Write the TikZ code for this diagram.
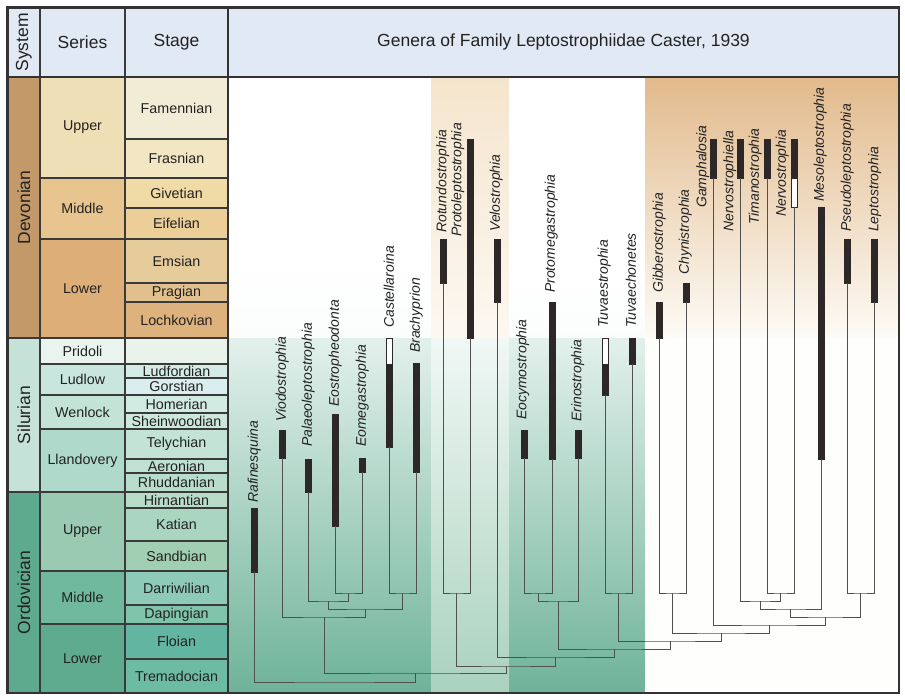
\documentclass[tikz,border=0pt]{standalone}
\usepackage{fontspec}
\setmainfont{Liberation Sans}
\usetikzlibrary{positioning}
\definecolor{headC}{HTML}{E1E9F5}
\definecolor{gridC}{HTML}{3A3A3A}
\definecolor{frameC}{HTML}{333333}
\definecolor{textC}{HTML}{222222}
\definecolor{barC}{HTML}{2E2727}
\definecolor{branchC}{HTML}{505050}
% systems
\definecolor{devS}{HTML}{C4996A}
\definecolor{silS}{HTML}{C6E2D8}
\definecolor{ordS}{HTML}{5EAA8E}
% series
\definecolor{dU}{HTML}{EFDFB6}
\definecolor{dM}{HTML}{E8C58F}
\definecolor{dL}{HTML}{DDAE78}
\definecolor{sP}{HTML}{EAF4EE}
\definecolor{sLu}{HTML}{C8E6DE}
\definecolor{sW}{HTML}{C3E3D7}
\definecolor{sLl}{HTML}{AFD9CB}
\definecolor{oU}{HTML}{9ACAB2}
\definecolor{oM}{HTML}{70B89E}
\definecolor{oL}{HTML}{5FAB8F}
% stages
\definecolor{famC}{HTML}{F2EBD5}
\definecolor{fraC}{HTML}{F2E7C2}
\definecolor{givC}{HTML}{F0DBA6}
\definecolor{eifC}{HTML}{EBCE98}
\definecolor{emsC}{HTML}{E6CB9B}
\definecolor{praC}{HTML}{E2C08D}
\definecolor{locC}{HTML}{DDB27C}
\definecolor{priC}{HTML}{E9F3EC}
\definecolor{ludC}{HTML}{D4ECE5}
\definecolor{gorC}{HTML}{DAEDEF}
\definecolor{homC}{HTML}{D2EBE2}
\definecolor{sheC}{HTML}{CCE8DC}
\definecolor{telC}{HTML}{C4E3D7}
\definecolor{aerC}{HTML}{BEE1D3}
\definecolor{rhuC}{HTML}{B8DDCD}
\definecolor{hirC}{HTML}{B8DCC8}
\definecolor{katC}{HTML}{AAD6C1}
\definecolor{sanC}{HTML}{A0CFB3}
\definecolor{darC}{HTML}{8DCBB8}
\definecolor{dapC}{HTML}{80C4AC}
\definecolor{floC}{HTML}{62B6A1}
\definecolor{treC}{HTML}{6CBBA2}
\begin{document}
\begin{tikzpicture}[x=1pt,y=-1pt,
    cell/.style={draw=gridC,line width=1.2pt,inner sep=0pt,text=textC,font=\fontsize{14.3}{16}\selectfont},
    bigcell/.style={cell,font=\fontsize{17.5}{20}\selectfont},
    bar/.style={fill=barC,draw=barC,line width=0.4pt,inner sep=0pt,minimum width=6pt},
    openbar/.style={bar,fill=white,line width=0.8pt},
    genus/.style={rotate=90,anchor=west,inner sep=0pt,text height=10.5pt,text depth=3pt,text=textC,font=\fontsize{14}{16}\selectfont\itshape},
    branch/.style={draw=branchC,line width=0.9pt}]
            \useasboundingbox (0,0) rectangle (905,699);
            \fill[white] (0,0) rectangle (905,699);
            % background bands of the genera area
            \shade[top color=white,bottom color=white!93!silS] (228,250) rectangle (431.5,338);
            \shade[top color=white!50!silS,middle color=silS!85!white,bottom color=ordS!90!white] (228,338) rectangle (431.5,693);
            \shade[top color=white!55!dM,bottom color=white!88!dM] (431.5,77) rectangle (509,338);
            \shade[top color=white!75!silS,middle color=white!30!silS,bottom color=oU!85!white] (431.5,338) rectangle (509,693);
            \shade[top color=white,bottom color=white!93!silS] (509,270) rectangle (645,338);
            \shade[top color=white!50!silS,middle color=silS!85!white,bottom color=ordS!90!white] (509,338) rectangle (645,693);
            \shade[top color=dL!85!white,bottom color=white!88!dU] (645,77) rectangle (899,338);
            \fill[white!97!dU] (645,338) rectangle (899,693);
            % header
            \node[bigcell,fill=headC,rotate=90,minimum width=69.5pt,minimum height=32.5pt] (hsys) at (23.75,42.25) {System};
            \node[bigcell,fill=headC,minimum width=85pt,minimum height=69.5pt] (hser) at (82.5,42.25) {Series};
            \node[bigcell,fill=headC,minimum width=103pt,minimum height=69.5pt] (hsta) at (176.5,42.25) {Stage};
            \node[bigcell,fill=headC,minimum width=671pt,minimum height=69.5pt] (hgen) at (563.5,42.25) {Genera of Family Leptostrophiidae Caster, 1939};
            % systems
            \node[bigcell,fill=devS,rotate=90,minimum width=261pt,minimum height=32.5pt] (devonian) at (23.75,207.5) {Devonian};
            \node[bigcell,fill=silS,rotate=90,minimum width=154pt,minimum height=32.5pt] (silurian) at (23.75,415) {Silurian};
            \node[bigcell,fill=ordS,rotate=90,minimum width=201pt,minimum height=32.5pt] (ordovician) at (23.75,592.5) {Ordovician};
            % series
            \node[cell,fill=dU,minimum width=85pt,minimum height=101pt] (upperD) at (82.5,127.5) {Upper};
            \node[cell,fill=dM,minimum width=85pt,minimum height=61pt] (middleD) at (82.5,208.5) {Middle};
            \node[cell,fill=dL,minimum width=85pt,minimum height=99pt] (lowerD) at (82.5,288.5) {Lower};
            \node[cell,fill=sP,minimum width=85pt,minimum height=26pt] (pridoli) at (82.5,351) {Pridoli};
            \node[cell,fill=sLu,minimum width=85pt,minimum height=31pt] (ludlow) at (82.5,379.5) {Ludlow};
            \node[cell,fill=sW,minimum width=85pt,minimum height=34pt] (wenlock) at (82.5,412) {Wenlock};
            \node[cell,fill=sLl,minimum width=85pt,minimum height=63pt] (llandovery) at (82.5,460.5) {Llandovery};
            \node[cell,fill=oU,minimum width=85pt,minimum height=79pt] (upperO) at (82.5,531.5) {Upper};
            \node[cell,fill=oM,minimum width=85pt,minimum height=53pt] (middleO) at (82.5,597.5) {Middle};
            \node[cell,fill=oL,minimum width=85pt,minimum height=69pt] (lowerO) at (82.5,658.5) {Lower};
            % stages
            \node[cell,fill=famC,minimum width=103pt,minimum height=62pt] (famennian) at (176.5,108) {Famennian};
            \node[cell,fill=fraC,minimum width=103pt,minimum height=39pt] (frasnian) at (176.5,158.5) {Frasnian};
            \node[cell,fill=givC,minimum width=103pt,minimum height=30pt] (givetian) at (176.5,193) {Givetian};
            \node[cell,fill=eifC,minimum width=103pt,minimum height=31pt] (eifelian) at (176.5,223.5) {Eifelian};
            \node[cell,fill=emsC,minimum width=103pt,minimum height=44pt] (emsian) at (176.5,261) {Emsian};
            \node[cell,fill=praC,minimum width=103pt,minimum height=19pt] (pragian) at (176.5,292.5) {Pragian};
            \node[cell,fill=locC,minimum width=103pt,minimum height=36pt] (lochkovian) at (176.5,320) {Lochkovian};
            \node[cell,fill=priC,minimum width=103pt,minimum height=26pt] (pristage) at (176.5,351) {};
            \node[cell,fill=ludC,minimum width=103pt,minimum height=14pt] (ludfordian) at (176.5,371) {Ludfordian};
            \node[cell,fill=gorC,minimum width=103pt,minimum height=17pt] (gorstian) at (176.5,386.5) {Gorstian};
            \node[cell,fill=homC,minimum width=103pt,minimum height=18pt] (homerian) at (176.5,404) {Homerian};
            \node[cell,fill=sheC,minimum width=103pt,minimum height=16pt] (sheinwoodian) at (176.5,421) {Sheinwoodian};
            \node[cell,fill=telC,minimum width=103pt,minimum height=30pt] (telychian) at (176.5,444) {Telychian};
            \node[cell,fill=aerC,minimum width=103pt,minimum height=14pt] (aeronian) at (176.5,466) {Aeronian};
            \node[cell,fill=rhuC,minimum width=103pt,minimum height=19pt] (rhuddanian) at (176.5,482.5) {Rhuddanian};
            \node[cell,fill=hirC,minimum width=103pt,minimum height=16pt] (hirnantian) at (176.5,500) {Hirnantian};
            \node[cell,fill=katC,minimum width=103pt,minimum height=33pt] (katian) at (176.5,524.5) {Katian};
            \node[cell,fill=sanC,minimum width=103pt,minimum height=30pt] (sandbian) at (176.5,556) {Sandbian};
            \node[cell,fill=darC,minimum width=103pt,minimum height=34pt] (darriwilian) at (176.5,588) {Darriwilian};
            \node[cell,fill=dapC,minimum width=103pt,minimum height=19pt] (dapingian) at (176.5,614.5) {Dapingian};
            \node[cell,fill=floC,minimum width=103pt,minimum height=35pt] (floian) at (176.5,641.5) {Floian};
            \node[cell,fill=treC,minimum width=103pt,minimum height=34pt] (tremadocian) at (176.5,676) {Tremadocian};
            % range bars
            \node[bar,minimum height=64pt] (raf) at (254,540) {};
            \node[bar,minimum height=28pt] (vio) at (282,444) {};
            \node[bar,minimum height=33pt] (pal) at (308,475.5) {};
            \node[bar,minimum height=112pt] (eos) at (335,470) {};
            \node[bar,minimum height=14pt] (eom) at (362,465) {};
            \node[openbar,minimum height=26pt] (casw) at (389,351) {};
            \node[bar,minimum height=83pt] (cas) at (389,405.5) {};
            \node[bar,minimum height=109pt] (bra) at (416,417.5) {};
            \node[bar,minimum height=44pt] (rot) at (443,261) {};
            \node[bar,minimum height=199pt] (pro) at (470,238.5) {};
            \node[bar,minimum height=63pt] (vel) at (497,270.5) {};
            \node[bar,minimum height=28pt] (eoc) at (524,444) {};
            \node[bar,minimum height=157pt] (prm) at (552,380.5) {};
            \node[bar,minimum height=28pt] (eri) at (578,444) {};
            \node[openbar,minimum height=26pt] (tuvw) at (605,351) {};
            \node[bar,minimum height=31pt] (tuv) at (605,379.5) {};
            \node[bar,minimum height=26pt] (tch) at (632,351) {};
            \node[bar,minimum height=36pt] (gib) at (659,320) {};
            \node[bar,minimum height=19pt] (chy) at (686,292.5) {};
            \node[bar,minimum height=39pt] (gam) at (713,158.5) {};
            \node[bar,minimum height=39pt] (nvl) at (740,158.5) {};
            \node[bar,minimum height=39pt] (tim) at (767,158.5) {};
            \node[bar,minimum height=39pt] (nvs) at (794,158.5) {};
            \node[openbar,minimum height=29pt] (nvsw) at (794,192.5) {};
            \node[bar,minimum height=252pt] (mes) at (821,333) {};
            \node[bar,minimum height=44pt] (pse) at (847,261) {};
            \node[bar,minimum height=63pt] (lep) at (874,270.5) {};
            % genus names
            \node[genus] (rafL) at (254,503) {Rafinesquina};
            \node[genus] (vioL) at (282,422) {Viodostrophia};
            \node[genus] (palL) at (308,447) {Palaeoleptostrophia};
            \node[genus] (eosL) at (335,407) {Eostropheodonta};
            \node[genus] (eomL) at (362,447) {Eomegastrophia};
            \node[genus] (casL) at (390,328) {Castellaroina};
            \node[genus] (braL) at (416,353) {Brachyprion};
            \node[genus] (rotL) at (442.5,233) {Rotundostrophia};
            \node[genus] (proL) at (457.5,237) {Protoleptostrophia};
            \node[genus] (velL) at (496,232) {Velostrophia};
            \node[genus] (eocL) at (522.5,420) {Eocymostrophia};
            \node[genus] (prmL) at (551,293) {Protomegastrophia};
            \node[genus] (eriL) at (577.5,422) {Erinostrophia};
            \node[genus] (tuvL) at (604,328) {Tuvaestrophia};
            \node[genus] (tchL) at (632,328) {Tuvaechonetes};
            \node[genus] (gibL) at (659,293) {Gibberostrophia};
            \node[genus] (chyL) at (685,275) {Chynistrophia};
            \node[genus] (gamL) at (702.5,208) {Gamphalosia};
            \node[genus] (nvlL) at (729.5,232) {Nervostrophiella};
            \node[genus] (timL) at (755,225) {Timanostrophia};
            \node[genus] (nvsL) at (782,217) {Nervostrophia};
            \node[genus] (mesL) at (820,202) {Mesoleptostrophia};
            \node[genus] (pseL) at (847,232) {Pseudoleptostrophia};
            \node[genus] (lepL) at (874.5,232) {Leptostrophia};
            % clade nodes
            \coordinate (n1) at (348.5,593);
            \coordinate (n2) at (328.5,601);
            \coordinate (n3) at (402.5,593);
            \coordinate (n4) at (365.5,609);
            \coordinate (n5) at (324,617);
            \coordinate (n6) at (456.5,593);
            \coordinate (n7) at (538,593);
            \coordinate (n8) at (558,601);
            \coordinate (n9) at (618.5,593);
            \coordinate (n10) at (672.5,593);
            \coordinate (n11) at (780.5,593);
            \coordinate (n12) at (760,601);
            \coordinate (n13) at (790.5,609);
            \coordinate (n14) at (860.5,593);
            \coordinate (n15) at (825.5,617);
            \coordinate (n16) at (769,625);
            \coordinate (n17) at (721,633);
            \coordinate (n18) at (670,641);
            \coordinate (n19) at (614,649);
            \coordinate (n20) at (555.5,657);
            \coordinate (n21) at (506,666);
            \coordinate (n22) at (415,673);
            \coordinate (n23) at (334.5,682);
            \draw[branch] (eos.south) |- (n1) -| (eom.south);
            \draw[branch] (pal.south) |- (n2) -| (n1);
            \draw[branch] (cas.south) |- (n3) -| (bra.south);
            \draw[branch] (n2) |- (n4) -| (n3);
            \draw[branch] (vio.south) |- (n5) -| (n4);
            \draw[branch] (rot.south) |- (n6) -| (pro.south);
            \draw[branch] (eoc.south) |- (n7) -| (prm.south);
            \draw[branch] (n7) |- (n8) -| (eri.south);
            \draw[branch] (tuv.south) |- (n9) -| (tch.south);
            \draw[branch] (gib.south) |- (n10) -| (chy.south);
            \draw[branch] (tim.south) |- (n11) -| (nvsw.south);
            \draw[branch] (nvl.south) |- (n12) -| (n11);
            \draw[branch] (n12) |- (n13) -| (mes.south);
            \draw[branch] (pse.south) |- (n14) -| (lep.south);
            \draw[branch] (n13) |- (n15) -| (n14);
            \draw[branch] (gam.south) |- (n16) -| (n15);
            \draw[branch] (n10) |- (n17) -| (n16);
            \draw[branch] (n9) |- (n18) -| (n17);
            \draw[branch] (n8) |- (n19) -| (n18);
            \draw[branch] (vel.south) |- (n20) -| (n19);
            \draw[branch] (n6) |- (n21) -| (n20);
            \draw[branch] (n5) |- (n22) -| (n21);
            \draw[branch] (raf.south) |- (n23) -| (n22);
            % frame
            \draw[frameC,line width=2pt] (7.5,77) -- (899,77);
            \draw[frameC,line width=2pt] (228,7.5) -- (228,693);
            \draw[frameC,line width=2.5pt] (7.5,7.5) rectangle (899,693);
\end{tikzpicture}
\end{document}
